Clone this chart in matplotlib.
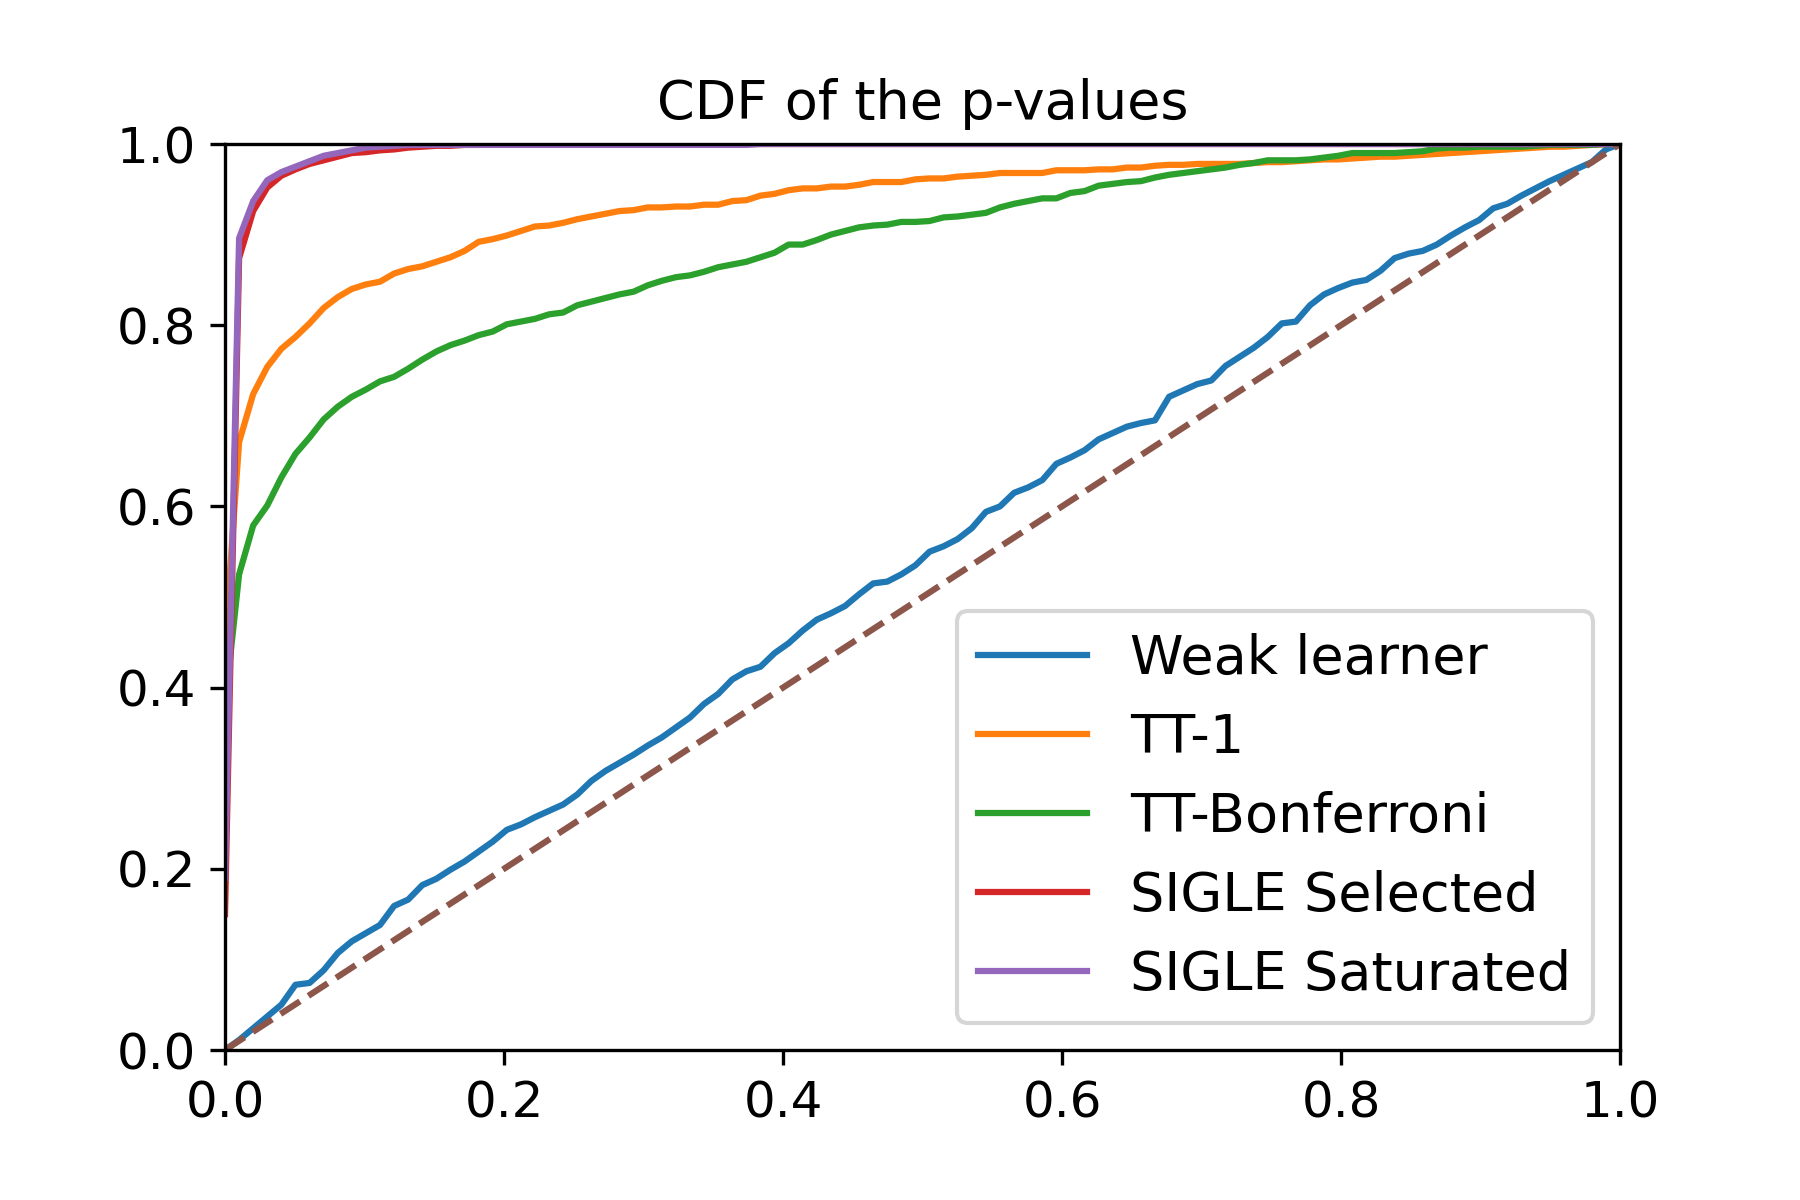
import numpy as np
import matplotlib
matplotlib.use('Agg')
import matplotlib.pyplot as plt

# p-value grid (100 points on [0, 1])
alphas = np.linspace(0, 1, 100)

weak_learner = [
    0.000, 0.011, 0.024, 0.037, 0.050, 0.072, 0.074, 0.088, 0.107, 0.120,
    0.129, 0.138, 0.159, 0.166, 0.182, 0.189, 0.199, 0.208, 0.219, 0.230,
    0.243, 0.249, 0.257, 0.264, 0.271, 0.282, 0.297, 0.308, 0.317, 0.326,
    0.336, 0.345, 0.356, 0.367, 0.382, 0.393, 0.409, 0.418, 0.423, 0.438,
    0.449, 0.463, 0.475, 0.482, 0.490, 0.503, 0.515, 0.517, 0.525, 0.535,
    0.550, 0.556, 0.564, 0.576, 0.594, 0.600, 0.615, 0.621, 0.629, 0.647,
    0.654, 0.662, 0.674, 0.681, 0.688, 0.692, 0.695, 0.721, 0.728, 0.735,
    0.739, 0.755, 0.765, 0.775, 0.787, 0.802, 0.804, 0.822, 0.834, 0.841,
    0.847, 0.850, 0.860, 0.874, 0.879, 0.882, 0.889, 0.899, 0.908, 0.916,
    0.929, 0.934, 0.943, 0.951, 0.959, 0.966, 0.973, 0.980, 0.994, 1.000,
]

tt_1 = [
    0.450, 0.671, 0.724, 0.754, 0.774, 0.787, 0.802, 0.819, 0.831, 0.840,
    0.845, 0.848, 0.857, 0.862, 0.865, 0.870, 0.875, 0.882, 0.892, 0.895,
    0.899, 0.904, 0.909, 0.910, 0.913, 0.917, 0.920, 0.923, 0.926, 0.927,
    0.930, 0.930, 0.931, 0.931, 0.933, 0.933, 0.937, 0.938, 0.943, 0.945,
    0.949, 0.951, 0.951, 0.953, 0.953, 0.955, 0.958, 0.958, 0.958, 0.961,
    0.962, 0.962, 0.964, 0.965, 0.966, 0.968, 0.968, 0.968, 0.968, 0.971,
    0.971, 0.971, 0.972, 0.972, 0.974, 0.974, 0.976, 0.977, 0.977, 0.978,
    0.978, 0.978, 0.978, 0.979, 0.980, 0.980, 0.981, 0.982, 0.983, 0.983,
    0.984, 0.985, 0.986, 0.986, 0.987, 0.988, 0.989, 0.990, 0.991, 0.992,
    0.993, 0.994, 0.995, 0.996, 0.997, 0.997, 0.998, 0.999, 1.000, 1.000,
]

tt_bonferroni = [
    0.380, 0.525, 0.579, 0.601, 0.632, 0.658, 0.676, 0.696, 0.710, 0.721,
    0.729, 0.738, 0.743, 0.752, 0.762, 0.771, 0.778, 0.783, 0.789, 0.793,
    0.801, 0.804, 0.807, 0.812, 0.814, 0.822, 0.826, 0.830, 0.834, 0.837,
    0.844, 0.849, 0.853, 0.855, 0.859, 0.864, 0.867, 0.870, 0.875, 0.880,
    0.889, 0.889, 0.894, 0.900, 0.904, 0.908, 0.910, 0.911, 0.914, 0.914,
    0.915, 0.919, 0.920, 0.922, 0.924, 0.930, 0.934, 0.937, 0.940, 0.940,
    0.946, 0.948, 0.954, 0.956, 0.958, 0.959, 0.963, 0.966, 0.968, 0.970,
    0.972, 0.974, 0.977, 0.979, 0.982, 0.982, 0.982, 0.983, 0.985, 0.987,
    0.990, 0.990, 0.990, 0.990, 0.991, 0.992, 0.995, 0.996, 0.996, 0.997,
    0.997, 0.997, 0.997, 0.998, 0.999, 0.999, 0.999, 0.999, 1.000, 1.000,
]

sigle_selected = [
    0.150, 0.874, 0.926, 0.952, 0.965, 0.972, 0.978, 0.982, 0.986, 0.990,
    0.991, 0.993, 0.994, 0.996, 0.997, 0.998, 0.998, 0.999, 0.999, 1.000,
] + [1.000] * 80

sigle_saturated = [
    0.190, 0.896, 0.937, 0.960, 0.969, 0.975, 0.981, 0.987, 0.990, 0.993,
    0.996, 0.997, 0.998, 0.999, 0.999, 0.999, 0.999, 0.999, 0.999, 0.999,
    0.999, 0.999, 0.999, 0.999, 0.999, 0.999, 0.999, 0.999, 0.999, 0.999,
    0.999, 0.999, 0.999, 0.999, 0.999, 0.999, 0.999, 0.999,
] + [1.000] * 62

series = [
    ('Weak learner', weak_learner),
    ('TT-1', tt_1),
    ('TT-Bonferroni', tt_bonferroni),
    ('SIGLE Selected', sigle_selected),
    ('SIGLE Saturated', sigle_saturated),
]

fig = plt.figure(figsize=(6, 4), dpi=300)
ax = fig.add_axes([0.125, 0.125, 0.775, 0.755])

for (name, vals) in series:
    ax.plot(alphas, vals, label=name)
ax.plot([0, 1], [0, 1], '--')

ax.set_xlim(0, 1)
ax.set_ylim(0, 1)
ax.tick_params(labelsize=12)
ax.set_title('CDF of the p-values', fontsize=13)
ax.legend(loc='lower right', fontsize=13)

fig.savefig('out.png', dpi=300)
